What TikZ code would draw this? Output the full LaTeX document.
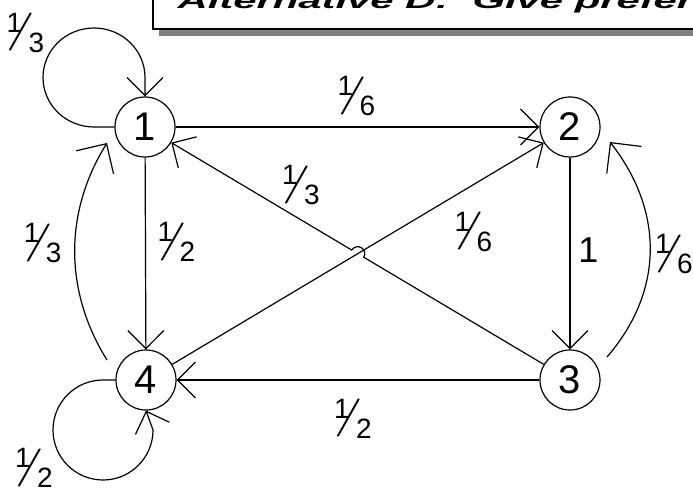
\documentclass[tikz,border=0pt]{standalone}
\usepackage{fontspec}
\setmainfont{Liberation Sans}
\newfontfamily\lmr{Latin Modern Roman}
\usetikzlibrary{arrows.meta,calc}
\newcommand\fdig{\fontsize{28}{28}\selectfont}
\newcommand\frc[2]{\makebox[35pt][l]{\rlap{\hspace{-3pt}\raisebox{20pt}{\fdig #1}}\rlap{\hspace{-2.5pt}\raisebox{10.5pt}{\scalebox{1.64}[1]{\lmr\fontsize{38}{38}\selectfont /}}}\hspace{19pt}{\fdig #2}}}
\begin{document}
\begin{tikzpicture}[x=1pt,y=1pt,line width=1.2pt,
  st/.style={circle,draw,minimum size=60pt,inner sep=0pt,font=\fontsize{40}{40}\selectfont},
  arr/.style={-{Straight Barb[length=18pt,width=36pt]}},
  carr/.style={-{Straight Barb[length=22pt,width=44pt]}},
  lab/.style={inner sep=0pt}]
\useasboundingbox (0,0) rectangle (693,491);
\clip (0,0) rectangle (693,491);
% banner
\fill[black!50] (159,455) rectangle (700,461);
\draw[fill=white] (153,462) rectangle (700,500);
\node[anchor=base west,inner sep=0pt,font=\fontsize{22}{22}\selectfont\bfseries\itshape] (title) at (177,482) {\scalebox{1.9}[1]{Alternative D:\ \ Give preference}};
% states
\node[st] (n1) at (145,364) {1};
\node[st] (n2) at (570,364) {2};
\node[st] (n3) at (570,111) {3};
\node[st] (n4) at (146,111) {4};
% straight edges
\draw[arr] (n1) -- (n2);
\draw[arr] (n1) -- (n4);
\draw[arr] (n2) -- (n3);
\draw[arr] (n3) -- (n4);
\draw[arr] (n4) -- (n2);
\coordinate (X) at (intersection of n1--n3 and n4--n2);
\draw[arr] (n3) -- ($(X)+(-30.76:7)$) arc[start angle=-30.76,end angle=149.24,radius=7] -- (n1);
% curved edges
\coordinate (c41s) at ($(n4)+(-39,20)$);
\coordinate (c41e) at ($(n1)+(-38,-16)$);
\draw[carr] (c41s) .. controls (64,200) and (64,279) .. (c41e);
\coordinate (c32s) at ($(n3)+(37,23)$);
\coordinate (c32e) at ($(n2)+(40,-15)$);
\draw[carr] (c32s) .. controls (664,200) and (664,280) .. (c32e);
% self loops
\draw[arr] (n1.west) -- (94,364) arc[start angle=270,end angle=0,x radius=51,y radius=49.5] -- (n1.north);
\draw[arr] (n4.west) -- (103,111) arc[start angle=90,end angle=360,radius=50] -- (n4.south);
% labels
\node[lab] (l12) at (358,394.5) {\frc16};
\node[lab] (l14) at (178,249) {\frc12};
\node[lab] (l23) at (588.5,241) {\fontsize{36}{36}\selectfont 1};
\node[lab] (l34) at (354.5,72.5) {\frc12};
\node[lab] (l31) at (302.5,305.5) {\frc13};
\node[lab] (l42) at (475,259) {\frc16};
\node[lab] (l41) at (44.5,247.5) {\frc13};
\node[lab] (l32) at (675.5,236.5) {\frc16};
\node[lab] (l11) at (27,458) {\frc13};
\node[lab] (l44) at (35.5,23) {\frc12};
\end{tikzpicture}
\end{document}
